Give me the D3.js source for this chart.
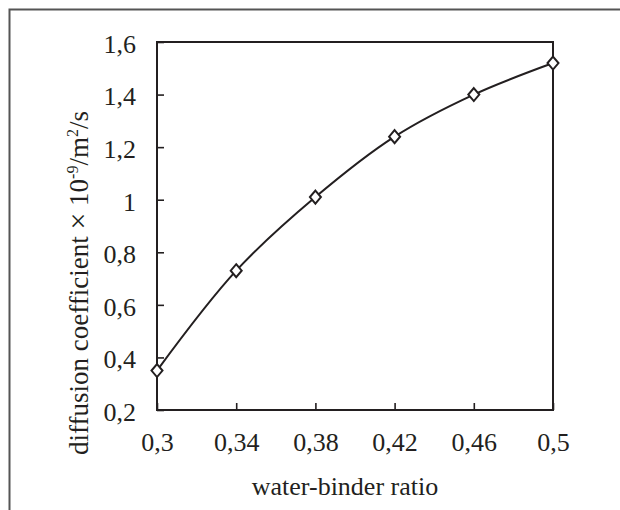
<!DOCTYPE html>
<html>
<head>
<meta charset="utf-8">
<script src="https://cdn.jsdelivr.net/npm/d3@7"></script>
<style>
  body { margin: 0; background: #fff; }
  svg { display: block; }
  text { font-family: "Liberation Serif", "Times New Roman", Times, "DejaVu Serif", serif; fill: #231f20; }
</style>
</head>
<body>
<svg id="chart" width="620" height="510"></svg>
<script>
// data
const ratios = [0.30, 0.34, 0.38, 0.42, 0.46, 0.50];
const coefficients = [0.35, 0.73, 1.01, 1.24, 1.40, 1.52];
const xTicks = [0.30, 0.34, 0.38, 0.42, 0.46, 0.50];
const yTicks = [0.2, 0.4, 0.6, 0.8, 1.0, 1.2, 1.4, 1.6];

const serif = '"Liberation Serif", "Times New Roman", Times, "DejaVu Serif", serif';
const ink = '#231f20';
const svg = d3.select('#chart');

// plot box
const plotLeft = 157, plotRight = 553, plotTop = 42, plotBottom = 410;

const x = d3.scaleLinear().domain([0.3, 0.5]).range([plotLeft, plotRight]);
const y = d3.scaleLinear().domain([0.2, 1.6]).range([plotBottom, plotTop]);

// comma decimals, as in the original
const fmt = v => String(+v.toFixed(2)).replace('.', ',');

// outer frame, open at the right and bottom
svg.append('path')
    .attr('d', 'M9.5,510 L9.5,9.5 L620,9.5')
    .attr('fill', 'none')
    .attr('stroke', '#555')
    .attr('stroke-width', 2);

// axes, ticks pointing inward
const xAxis = svg.append('g')
    .attr('transform', 'translate(0,' + plotBottom + ')')
    .call(d3.axisBottom(x).tickValues(xTicks).tickSizeInner(-7).tickSizeOuter(0).tickFormat(fmt));

const yAxis = svg.append('g')
    .attr('transform', 'translate(' + plotLeft + ',0)')
    .call(d3.axisLeft(y).tickValues(yTicks).tickSizeInner(-7).tickSizeOuter(0).tickPadding(21).tickFormat(fmt));

[xAxis, yAxis].forEach(g => {
    g.attr('font-family', serif).attr('font-size', 26);
    g.select('.domain').remove();
    g.selectAll('line').attr('stroke', ink).attr('stroke-width', 1.6);
    g.selectAll('text').attr('fill', ink);
});
xAxis.selectAll('text').attr('y', 41).attr('dy', 0);
yAxis.selectAll('text').attr('dy', '0.4em');

// box around plot
svg.append('rect')
    .attr('x', plotLeft).attr('y', plotTop)
    .attr('width', plotRight - plotLeft).attr('height', plotBottom - plotTop)
    .attr('fill', 'none')
    .attr('stroke', ink)
    .attr('stroke-width', 2);

// curve
const pts = ratios.map((r, i) => [r, coefficients[i]]);
const line = d3.line()
    .x(d => x(d[0]))
    .y(d => y(d[1]))
    .curve(d3.curveCatmullRom.alpha(0.5));

svg.append('path')
    .datum(pts)
    .attr('d', line)
    .attr('fill', 'none')
    .attr('stroke', ink)
    .attr('stroke-width', 2);

// open diamond markers
svg.selectAll('.marker')
    .data(pts)
    .enter().append('path')
    .attr('class', 'marker')
    .attr('transform', d => 'translate(' + x(d[0]) + ',' + y(d[1]) + ')')
    .attr('d', 'M0,-6.5 L5.5,0 L0,6.5 L-5.5,0 Z')
    .attr('fill', '#fff')
    .attr('stroke', ink)
    .attr('stroke-width', 2);

// axis titles
svg.append('text')
    .attr('x', 345)
    .attr('y', 495)
    .attr('text-anchor', 'middle')
    .attr('font-family', serif)
    .attr('font-size', 26)
    .text('water-binder ratio');

const yTitle = svg.append('text')
    .attr('transform', 'translate(88,283) rotate(-90)')
    .attr('text-anchor', 'middle')
    .attr('font-family', serif)
    .attr('font-size', 27);
yTitle.append('tspan').text('diffusion coefficient ');
yTitle.append('tspan').attr('font-size', 30).text('\u00d7');
yTitle.append('tspan').text(' 10');
yTitle.append('tspan').attr('dy', -10).attr('font-size', 16).text('-9');
yTitle.append('tspan').attr('dy', 10).text('/m');
yTitle.append('tspan').attr('dy', -10).attr('font-size', 16).text('2');
yTitle.append('tspan').attr('dy', 10).text('/s');
</script>
</body>
</html>
